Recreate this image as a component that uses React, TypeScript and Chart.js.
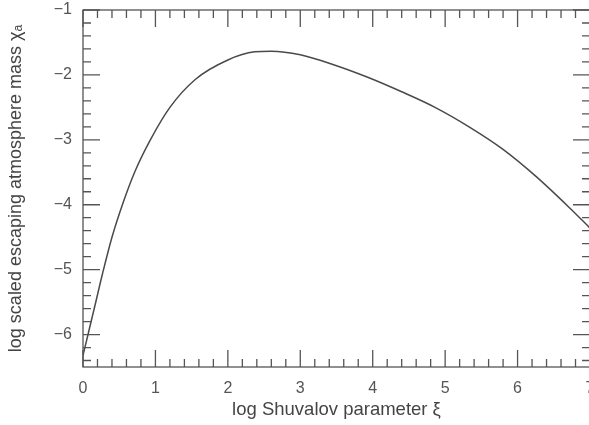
import React, { useEffect, useRef } from "react";
import { Chart, registerables } from "chart.js";

Chart.register(...registerables);

const xiValues = [0.0, 0.08, 0.17, 0.27, 0.4, 0.55, 0.72, 0.93, 1.2, 1.55, 2.0, 2.37, 2.6, 3.0, 3.48, 3.94, 4.4, 4.86, 5.33, 5.79, 6.25, 6.72, 7.0];
const chiValues = [-6.32, -5.95, -5.53, -5.06, -4.5, -3.98, -3.48, -3.0, -2.5, -2.07, -1.77, -1.645, -1.635, -1.69, -1.85, -2.04, -2.26, -2.5, -2.8, -3.14, -3.56, -4.05, -4.36];
const xTickLabels = [0, 1, 2, 3, 4, 5, 6, 7];
const yTickLabels = [-1, -2, -3, -4, -5, -6];
const xTitle = "log Shuvalov parameter \u03BE";
const yTitle = "log scaled escaping atmosphere mass \u03C7\u2090";

const FONT = "'Liberation Sans', Arial, Helvetica, sans-serif";

const frameTicks = {
  id: "frameTicks",
  afterDatasetsDraw(chart: any) {
    const { ctx, chartArea } = chart;
    const xs = chart.scales.x;
    const ys = chart.scales.y;
    const { left, right, top, bottom } = chartArea;
    ctx.save();
    ctx.strokeStyle = "#555";
    ctx.lineWidth = 1.3;
    ctx.strokeRect(left, top, right - left, bottom - top);
    const MAJ = 17;
    const MIN = 8;
    for (let i = 0; i <= 35; i++) {
      const v = i * 0.2;
      const px = xs.getPixelForValue(v);
      const len = i % 5 === 0 ? MAJ : MIN;
      ctx.beginPath();
      ctx.moveTo(px, bottom);
      ctx.lineTo(px, bottom - len);
      ctx.moveTo(px, top);
      ctx.lineTo(px, top + len);
      ctx.stroke();
    }
    for (let i = 0; i <= 27; i++) {
      const v = -1 - i * 0.2;
      const py = ys.getPixelForValue(v);
      const len = i % 5 === 0 ? MAJ : MIN;
      ctx.beginPath();
      ctx.moveTo(left, py);
      ctx.lineTo(left + len, py);
      ctx.moveTo(right, py);
      ctx.lineTo(right - len, py);
      ctx.stroke();
    }
    ctx.restore();
  },
};

const minus = (v: any) => String(v).replace("-", "\u2212");

const zeroPad = (s: any) => {
  s.paddingTop = 0;
  s.paddingBottom = 0;
  s.paddingLeft = 0;
  s.paddingRight = 0;
};

export default function App() {
  const ref = useRef<HTMLCanvasElement | null>(null);
  useEffect(() => {
    if (!ref.current) return;
    const chart = new Chart(ref.current, {
      type: "scatter",
      data: {
        datasets: [
          {
            data: xiValues.map((x, i) => ({ x, y: chiValues[i] })),
            showLine: true,
            borderColor: "#4a4a4a",
            borderWidth: 1.5,
            pointRadius: 0,
            cubicInterpolationMode: "monotone",
            fill: false,
          },
        ],
      },
      options: {
        animation: false,
        responsive: false,
        devicePixelRatio: 1,
        layout: { padding: { left: 0, right: 10, top: 10, bottom: 0 } },
        plugins: {
          legend: { display: false },
          tooltip: { enabled: false },
          title: { display: false },
        },
        scales: {
          x: {
            type: "linear",
            min: 0,
            max: 7,
            afterBuildTicks: (s: any) => {
              s.ticks = xTickLabels.map((v) => ({ value: v }));
            },
            afterFit: (s: any) => {
              s.height = 58;
              zeroPad(s);
            },
            grid: { display: false, drawTicks: false },
            border: { display: false },
            ticks: {
              padding: 12,
              color: "#555",
              font: { family: FONT, size: 16 },
              maxRotation: 0,
              callback: minus,
            },
            title: {
              display: true,
              text: xTitle,
              color: "#444",
              font: { family: FONT, size: 18.5 },
              padding: { top: 0, bottom: 4 },
            },
          },
          y: {
            type: "linear",
            min: -6.5,
            max: -1,
            afterBuildTicks: (s: any) => {
              s.ticks = yTickLabels.map((v) => ({ value: v }));
            },
            afterFit: (s: any) => {
              s.width = 83;
              zeroPad(s);
            },
            grid: { display: false, drawTicks: false },
            border: { display: false },
            ticks: {
              padding: 11,
              color: "#555",
              font: { family: FONT, size: 16 },
              callback: minus,
            },
            title: {
              display: true,
              text: yTitle,
              color: "#444",
              font: { family: FONT, size: 18 },
              padding: { top: 5, bottom: 0 },
            },
          },
        },
      },
      plugins: [frameTicks],
    });
    return () => chart.destroy();
  }, []);
  return (
    <div
      style={{
        position: "fixed",
        left: 0,
        top: 0,
        width: 589,
        height: 425,
        overflow: "hidden",
        background: "#fff",
      }}
    >
      <canvas ref={ref} width={600} height={425} style={{ display: "block" }} />
    </div>
  );
}
